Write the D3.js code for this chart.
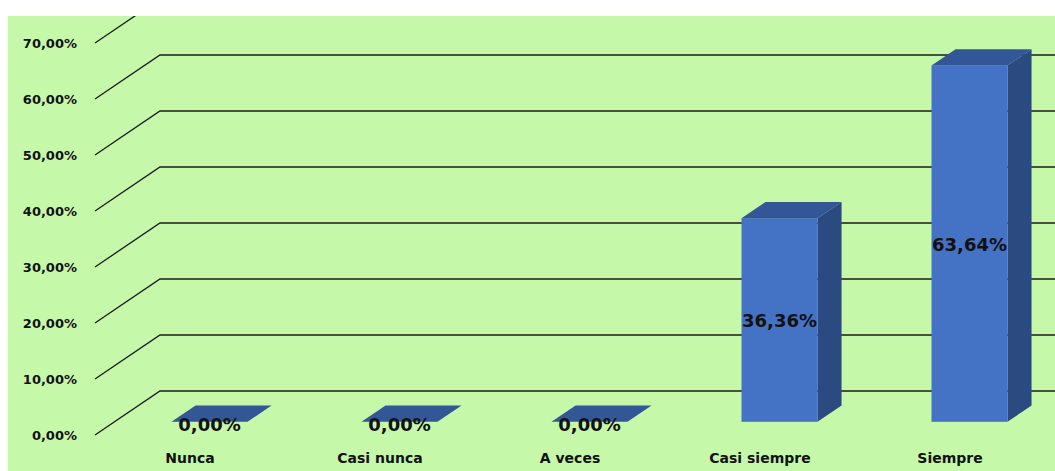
<!DOCTYPE html>
<html>
<head>
<meta charset="utf-8">
<script src="https://cdn.jsdelivr.net/npm/d3@7"></script>
<style>
  body { margin: 0; background: #fff; }
  svg { display: block; }
  text { font-family: "DejaVu Sans", Verdana, sans-serif; font-weight: bold; fill: #111; }
</style>
</head>
<body>
<div id="chart"></div>
<script>
const FRAME_WIDTH = 1055;
const FRAME_HEIGHT = 471;

// chart data
const categories = ["Nunca", "Casi nunca", "A veces", "Casi siempre", "Siempre"];
const values = [0, 0, 0, 36.36, 63.64];
const valueLabels = ["0,00%", "0,00%", "0,00%", "36,36%", "63,64%"];
const tickValues = [0, 10, 20, 30, 40, 50, 60, 70];
const tickLabels = ["0,00%", "10,00%", "20,00%", "30,00%", "40,00%", "50,00%", "60,00%", "70,00%"];

// depth of the 3d floor (front plane -> back wall)
const DEPTH = {x: 65, y: -44};
const BAR_FRONT = 0.3;   // bar front face as fraction of depth
const BAR_BACK = 0.67;

const X_SCALE = d3.scaleBand()
  .domain(categories)
  .range([95, 1045])
  .paddingInner(0.6)
  .paddingOuter(0.3);

const Y_SCALE = d3.scaleLinear()
  .domain([0, 70])
  .range([435, 43]);

const svg = d3.select("#chart")
  .append("svg")
    .attr("width", FRAME_WIDTH)
    .attr("height", FRAME_HEIGHT);

svg.append("clipPath")
    .attr("id", "plotclip")
  .append("rect")
    .attr("x", 8).attr("y", 16)
    .attr("width", FRAME_WIDTH - 8).attr("height", FRAME_HEIGHT - 16);

svg.append("rect")
    .attr("x", 8).attr("y", 16)
    .attr("width", FRAME_WIDTH - 8).attr("height", FRAME_HEIGHT - 16)
    .attr("fill", "#c6f8aa");

const plot = svg.append("g").attr("clip-path", "url(#plotclip)");

// back wall gridlines + side floor diagonals
const x0 = X_SCALE.range()[0];
plot.selectAll(".grid")
  .data(tickValues)
  .enter()
  .append("polyline")
    .attr("class", "grid")
    .attr("points", d => {
      let yf = Y_SCALE(d);
      let yb = yf + DEPTH.y;
      return [[x0, yf], [x0 + DEPTH.x, yb], [FRAME_WIDTH + 10, yb]].map(p => p.join(",")).join(" ");
    })
    .attr("fill", "none")
    .attr("stroke", "#1a1a1a")
    .attr("stroke-width", 1.3);

// y-axis labels
svg.selectAll(".ytick")
  .data(tickValues)
  .enter()
  .append("text")
    .attr("class", "ytick")
    .attr("x", 77)
    .attr("y", d => Y_SCALE(d) + 5)
    .attr("text-anchor", "end")
    .attr("font-size", "13px")
    .text((d, i) => tickLabels[i]);

// bars
const bars = plot.selectAll(".bar")
  .data(values)
  .enter()
  .append("g")
    .attr("class", "bar");

function pts(arr) { return arr.map(p => p.join(",")).join(" "); }

bars.each(function(v, i) {
  let g = d3.select(this);
  let w = X_SCALE.bandwidth();
  let fx = X_SCALE(categories[i]) + DEPTH.x * BAR_FRONT;
  let fdy = DEPTH.y * BAR_FRONT;
  let ddx = DEPTH.x * (BAR_BACK - BAR_FRONT);
  let ddy = DEPTH.y * (BAR_BACK - BAR_FRONT);
  let yb = Y_SCALE(0) + fdy;
  let yt = Y_SCALE(v) + fdy;

  if (v > 0) {
    // side
    g.append("polygon")
      .attr("points", pts([[fx + w, yt], [fx + w + ddx, yt + ddy], [fx + w + ddx, yb + ddy], [fx + w, yb]]))
      .attr("fill", "#2b4a80");
    // front
    g.append("rect")
      .attr("x", fx).attr("y", yt)
      .attr("width", w).attr("height", yb - yt)
      .attr("fill", "#4472c4");
  }
  // top
  g.append("polygon")
    .attr("points", pts([[fx, yt], [fx + ddx, yt + ddy], [fx + w + ddx, yt + ddy], [fx + w, yt]]))
    .attr("fill", "#335697");
});

// value labels
svg.selectAll(".vlabel")
  .data(values)
  .enter()
  .append("text")
    .attr("class", "vlabel")
    .attr("x", (d, i) => X_SCALE(categories[i]) + DEPTH.x * BAR_FRONT + X_SCALE.bandwidth() / 2)
    .attr("y", d => {
      let yb = Y_SCALE(0) + DEPTH.y * BAR_FRONT;
      let yt = Y_SCALE(d) + DEPTH.y * BAR_FRONT;
      return d > 0 ? (yb + yt) / 2 + 7 : yb + 9;
    })
    .attr("text-anchor", "middle")
    .attr("font-size", "18px")
    .text((d, i) => valueLabels[i]);

// category labels
svg.selectAll(".xlabel")
  .data(categories)
  .enter()
  .append("text")
    .attr("class", "xlabel")
    .attr("x", d => X_SCALE(d) + X_SCALE.bandwidth() / 2)
    .attr("y", 463)
    .attr("text-anchor", "middle")
    .attr("font-size", "14px")
    .text(d => d);
</script>
</body>
</html>
